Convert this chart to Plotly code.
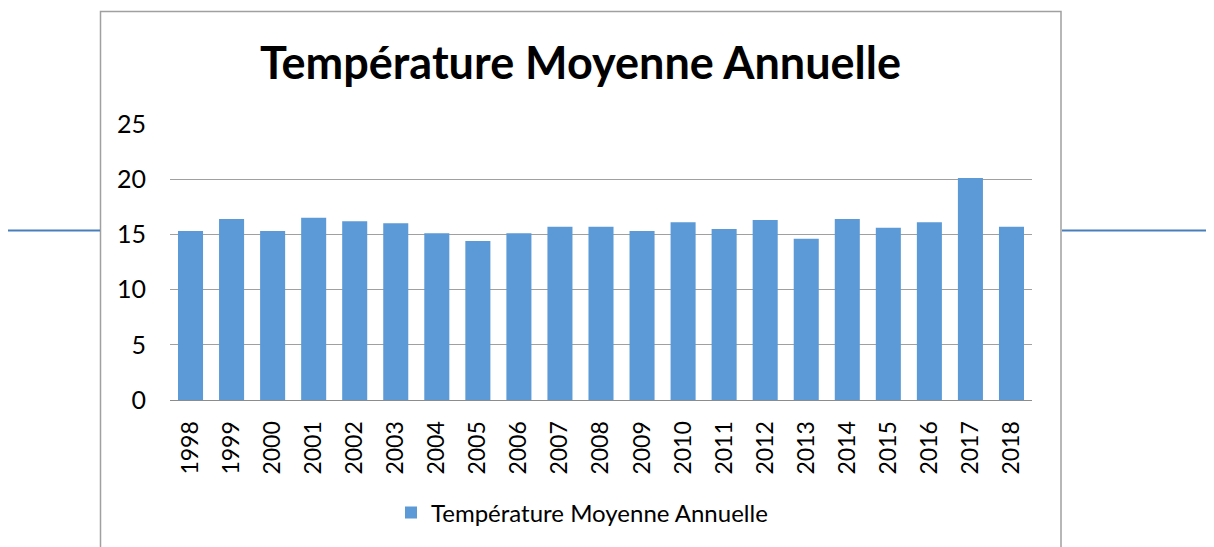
import plotly.graph_objects as go

# données
annees = [str(a) for a in range(1998, 2019)]
temperatures = [15.3, 16.4, 15.3, 16.5, 16.2, 16.0, 15.1, 14.4, 15.1, 15.7, 15.7,
                15.3, 16.1, 15.5, 16.3, 14.6, 16.4, 15.6, 16.1, 20.1, 15.7]
titre = "Température Moyenne Annuelle"

# la page ajoute une marge de 8 px autour de la figure
OFF = 8
W, H = 1214 - OFF, 547 - OFF
L, R, T, B = 170 - OFF, 182, 124 - OFF, 147
pw, ph = W - L - R, H - T - B


def px(x):
    return (x - OFF - L) / pw


def py(y):
    return (H - B - (y - OFF)) / ph


fig = go.Figure(
    go.Bar(
        x=annees,
        y=temperatures,
        name=titre,
        marker=dict(color="#5b9ad6", line=dict(width=0)),
        showlegend=True,
    )
)

font = "Lato, 'Open Sans', sans-serif"

fig.update_layout(
    width=W,
    height=H,
    margin=dict(l=L, r=R, t=T, b=B),
    paper_bgcolor="white",
    plot_bgcolor="rgba(0,0,0,0)",
    bargap=0.39,
    font=dict(family=font, size=24, color="black"),
    title=dict(
        text="<b>" + titre + "</b>",
        x=(580.5 - OFF) / W,
        xanchor="center",
        y=1 - (63 - OFF) / H,
        yanchor="middle",
        font=dict(family=font, size=45, color="black"),
    ),
    xaxis=dict(
        type="category",
        showline=True,
        linecolor="#8c8c8c",
        linewidth=1,
        showgrid=False,
        tickangle=-90,
        ticks="outside",
        ticklen=11,
        tickcolor="rgba(0,0,0,0)",
        tickfont=dict(size=23),
        fixedrange=True,
    ),
    yaxis=dict(
        range=[0, 25],
        dtick=5,
        showgrid=True,
        gridcolor="#a0a0a0",
        gridwidth=1.3,
        zeroline=False,
        ticks="outside",
        ticklen=18,
        tickcolor="rgba(0,0,0,0)",
        tickfont=dict(size=25),
    ),
    legend=dict(
        orientation="h",
        x=(582 - OFF) / W,
        xref="container",
        xanchor="center",
        y=1 - (513 - OFF) / H,
        yref="container",
        yanchor="middle",
        font=dict(size=24),
        itemwidth=30,
    ),
    shapes=[
        # cadre du graphique
        dict(
            type="rect", xref="paper", yref="paper",
            x0=px(100.5), x1=px(1061), y0=py(11.5), y1=py(600),
            line=dict(color="#a0a0a0", width=1.5),
            fillcolor="rgba(0,0,0,0)",
            layer="below",
        ),
        # trait bleu derrière le graphique
        dict(
            type="line", xref="paper", yref="paper",
            x0=px(7), x1=px(100), y0=py(230.5), y1=py(230.5),
            line=dict(color="#4a7ebb", width=2),
        ),
        dict(
            type="line", xref="paper", yref="paper",
            x0=px(1062), x1=px(1214), y0=py(230.5), y1=py(230.5),
            line=dict(color="#4a7ebb", width=2),
        ),
    ],
)

fig.write_html("out.html")
